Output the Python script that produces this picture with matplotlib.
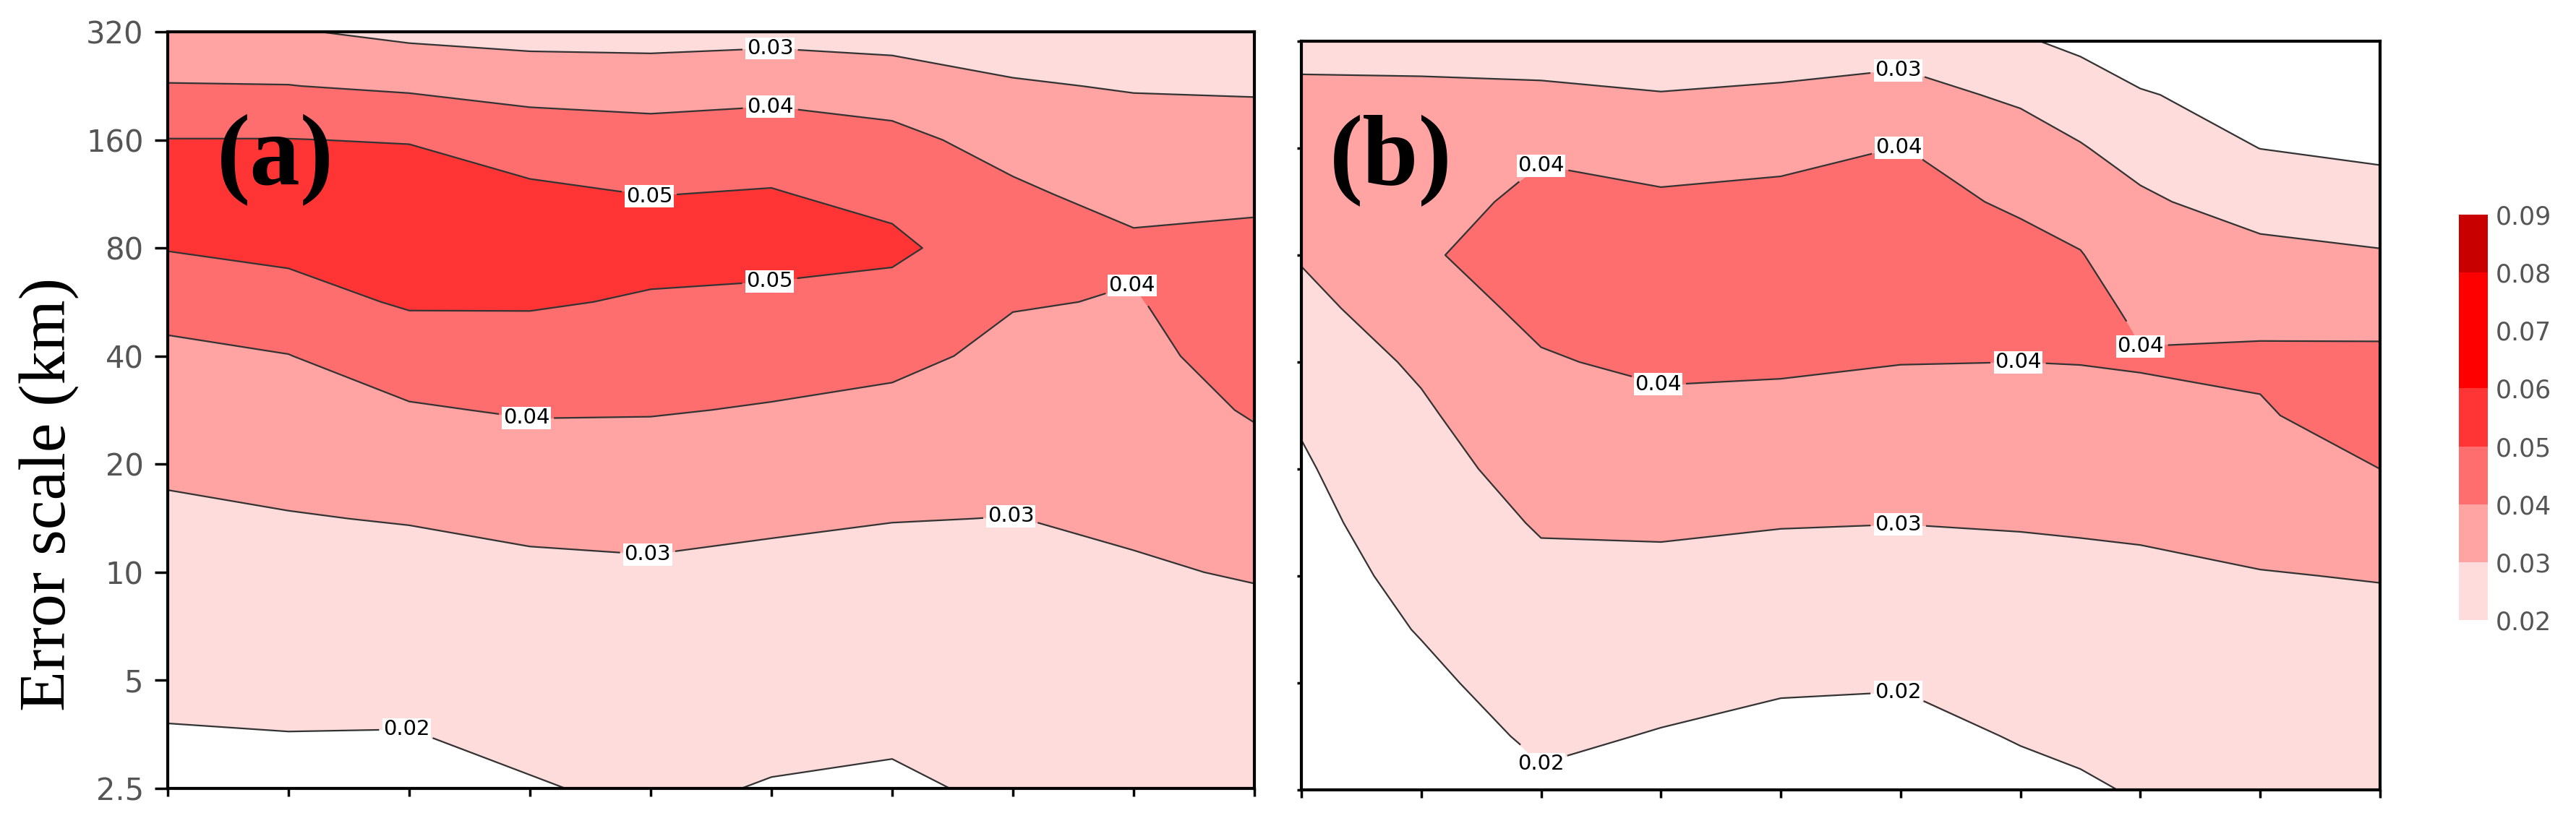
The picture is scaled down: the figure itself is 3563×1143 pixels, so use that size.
import numpy as np
import matplotlib
matplotlib.use('Agg')
import matplotlib.pyplot as plt
from matplotlib.colors import ListedColormap, BoundaryNorm
from matplotlib.cm import ScalarMappable

# error scale (km), half-octave steps from 2.5 to 320
scale_km = [2.5, 3.54, 5, 7.07, 10, 14.1, 20, 28.3, 40, 56.6, 80, 113, 160, 226, 320]
x_a = [0, 1, 2, 3, 4, 5, 6, 7, 8, 9]
x_b = [0, 1, 2, 3, 4, 5, 6, 6.5, 7, 8, 9]

# one list per x position, values from the bottom (2.5 km) to the top (320 km)
err_a = [
    [0.0174, 0.0196, 0.0219, 0.0242, 0.0264, 0.0287, 0.0314, 0.0348, 0.0382, 0.0434, 0.0505, 0.0560, 0.0502, 0.0404, 0.0323],
    [0.0175, 0.0199, 0.0223, 0.0247, 0.0271, 0.0296, 0.0328, 0.0363, 0.0398, 0.0464, 0.0526, 0.0565, 0.0502, 0.0402, 0.0309],
    [0.0172, 0.0198, 0.0224, 0.0250, 0.0276, 0.0304, 0.0348, 0.0392, 0.0451, 0.0511, 0.0560, 0.0549, 0.0495, 0.0383, 0.0274],
    [0.0195, 0.0218, 0.0241, 0.0264, 0.0286, 0.0318, 0.0363, 0.0408, 0.0458, 0.0510, 0.0570, 0.0517, 0.0448, 0.0363, 0.0258],
    [0.0212, 0.0232, 0.0251, 0.0271, 0.0291, 0.0322, 0.0364, 0.0406, 0.0448, 0.0491, 0.0535, 0.0498, 0.0435, 0.0356, 0.0256],
    [0.0196, 0.0218, 0.0240, 0.0262, 0.0284, 0.0311, 0.0353, 0.0394, 0.0440, 0.0486, 0.0527, 0.0506, 0.0445, 0.0367, 0.0265],
    [0.0189, 0.0211, 0.0234, 0.0256, 0.0279, 0.0302, 0.0341, 0.0380, 0.0423, 0.0470, 0.0520, 0.0471, 0.0423, 0.0350, 0.0254],
    [0.0212, 0.0229, 0.0247, 0.0264, 0.0281, 0.0299, 0.0324, 0.0351, 0.0378, 0.0406, 0.0440, 0.0413, 0.0368, 0.0308, 0.0247],
    [0.0225, 0.0242, 0.0259, 0.0276, 0.0293, 0.0312, 0.0333, 0.0354, 0.0374, 0.0395, 0.0413, 0.0374, 0.0334, 0.0294, 0.0254],
    [0.0230, 0.0248, 0.0266, 0.0284, 0.0305, 0.0340, 0.0375, 0.0409, 0.0441, 0.0448, 0.0419, 0.0383, 0.0336, 0.0289, 0.0242],
]
err_b = [
    [0.0100, 0.0115, 0.0130, 0.0145, 0.0160, 0.0175, 0.0190, 0.0210, 0.0243, 0.0275, 0.0308, 0.0340, 0.0347, 0.0313, 0.0275],
    [0.0140, 0.0162, 0.0183, 0.0205, 0.0226, 0.0246, 0.0267, 0.0288, 0.0314, 0.0350, 0.0385, 0.0359, 0.0333, 0.0308, 0.0282],
    [0.0190, 0.0213, 0.0236, 0.0260, 0.0283, 0.0308, 0.0336, 0.0364, 0.0392, 0.0425, 0.0460, 0.0426, 0.0385, 0.0316, 0.0248],
    [0.0167, 0.0196, 0.0225, 0.0253, 0.0282, 0.0312, 0.0347, 0.0381, 0.0417, 0.0455, 0.0448, 0.0412, 0.0362, 0.0303, 0.0245],
    [0.0148, 0.0179, 0.0210, 0.0241, 0.0273, 0.0304, 0.0340, 0.0376, 0.0413, 0.0455, 0.0463, 0.0422, 0.0371, 0.0312, 0.0252],
    [0.0143, 0.0175, 0.0206, 0.0238, 0.0269, 0.0301, 0.0334, 0.0368, 0.0402, 0.0441, 0.0480, 0.0440, 0.0401, 0.0330, 0.0259],
    [0.0181, 0.0205, 0.0230, 0.0254, 0.0279, 0.0305, 0.0337, 0.0368, 0.0400, 0.0443, 0.0431, 0.0383, 0.0337, 0.0285, 0.0210],
    [0.0192, 0.0215, 0.0238, 0.0261, 0.0283, 0.0308, 0.0339, 0.0371, 0.0402, 0.0440, 0.0404, 0.0356, 0.0306, 0.0244, 0.0179],
    [0.0205, 0.0226, 0.0246, 0.0267, 0.0287, 0.0311, 0.0342, 0.0373, 0.0408, 0.0377, 0.0345, 0.0313, 0.0265, 0.0206, 0.0146],
    [0.0220, 0.0239, 0.0258, 0.0277, 0.0297, 0.0326, 0.0358, 0.0390, 0.0418, 0.0367, 0.0320, 0.0264, 0.0199, 0.0170, 0.0150],
    [0.0230, 0.0248, 0.0266, 0.0283, 0.0303, 0.0351, 0.0400, 0.0450, 0.0419, 0.0364, 0.0307, 0.0242, 0.0177, 0.0160, 0.0145],
]

levels = [0.02, 0.03, 0.04, 0.05, 0.06, 0.07, 0.08, 0.09]
colors = ['#FFDCDC', '#FFA3A3', '#FF6E6E', '#FF3535', '#FF0000', '#FF0000', '#C80000']
line_levels = [0.02, 0.03, 0.04, 0.05]

tick_km = [2.5, 5, 10, 20, 40, 80, 160, 320]
tick_lab = ['2.5', '5', '10', '20', '40', '80', '160', '320']

# where the contour labels sit (x, km)
lab_a = [(1.98, 3.6), (3.98, 11.8), (6.98, 14.9), (4.99, 284), (2.97, 27),
         (4.99, 204), (7.98, 64), (3.98, 108), (4.99, 61.5)]
lab_b = [(1.98, 2.91), (4.98, 4.63), (4.98, 14.0), (4.98, 262), (1.98, 148),
         (2.98, 34.8), (4.98, 163), (5.98, 40), (6.98, 43.8)]

cmap = ListedColormap(colors)
norm = BoundaryNorm(levels, cmap.N)

W, H = 3563, 1143
fig = plt.figure(figsize=(W / 100, H / 100), dpi=100)


def panel(rect, x, err, labpos, tag, tag_x, tag_y, show_y):
    ax = fig.add_axes(rect)
    z = np.array(err).T
    ax.contourf(x, scale_km, z, levels=levels, colors=colors)
    cs = ax.contour(x, scale_km, z, levels=line_levels, colors='#333333', linewidths=1.6)
    ax.set_yscale('log', base=2)
    ax.set_ylim(2.5, 320)
    ax.set_xlim(0, 9)
    ax.set_xticks(range(10))
    ax.set_xticklabels([])
    ax.set_yticks(tick_km)
    ax.minorticks_off()
    if show_y:
        ax.set_yticklabels(tick_lab)
        ax.tick_params(axis='y', length=13, width=2.5, pad=11,
                       labelsize=30, labelcolor='#555555')
    else:
        ax.set_yticklabels([])
        ax.tick_params(axis='y', length=4, width=2.5)
    ax.tick_params(axis='x', length=8, width=2.5)
    for s in ax.spines.values():
        s.set_linewidth(3)
    txt = ax.clabel(cs, fmt='%.2f', fontsize=21, inline=True,
                    inline_spacing=6, manual=labpos)
    for t in txt:
        t.set_rotation(0)
        t.set_color('black')
        t.set_bbox(dict(boxstyle='square,pad=0.05', fc='white', ec='none'))
    ax.text(tag_x, tag_y, tag, transform=ax.transAxes, fontsize=100,
            fontweight='bold', family='Liberation Serif', va='center', ha='left')
    return ax


panel([232 / W, 52 / H, 1503 / W, 1047 / H], x_a, err_a, lab_a, '(a)', 0.045, 0.83, True)
panel([1800 / W, 50 / H, 1492 / W, 1036 / H], x_b, err_b, lab_b, '(b)', 0.026, 0.84, False)

fig.text(68 / W, 0.4016, 'Error scale (km)', rotation=90, fontsize=66,
         family='Liberation Serif', ha='center', va='center')

cax = fig.add_axes([3401 / W, 285 / H, 40 / W, 561 / H])
cb = fig.colorbar(ScalarMappable(norm=norm, cmap=cmap), cax=cax,
                  ticks=levels, format='%.2f')
cb.outline.set_visible(False)
cb.ax.tick_params(length=0, labelsize=25, labelcolor='#555555', pad=8)

fig.savefig('out.png', dpi=100)
